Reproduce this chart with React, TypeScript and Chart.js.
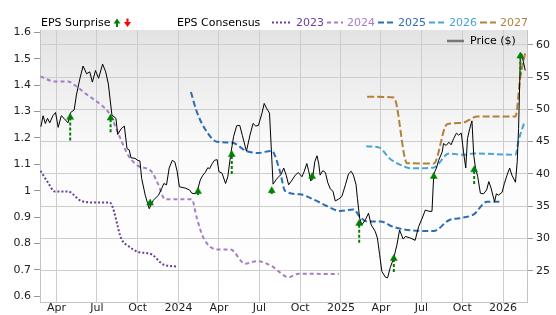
import React, { useEffect, useRef } from 'react';
import { Chart, registerables } from 'chart.js';

Chart.register(...registerables);

// ---------- data ----------
const xTickDates = ['2023-04-01', '2023-07-01', '2023-10-01', '2024-01-01', '2024-04-01', '2024-07-01', '2024-10-01', '2025-01-01', '2025-04-01', '2025-07-01', '2025-10-01', '2026-01-01'];
const xTickLabels = ['Apr', 'Jul', 'Oct', '2024', 'Apr', 'Jul', 'Oct', '2025', 'Apr', 'Jul', 'Oct', '2026'];
const epsTicks = [0.6, 0.7, 0.8, 0.9, 1.0, 1.1, 1.2, 1.3, 1.4, 1.5, 1.6];
const priceTicks = [25, 30, 35, 40, 45, 50, 55, 60];

const priceDates = [
  '2023-02-25', '2023-03-02', '2023-03-07', '2023-03-12', '2023-03-17', '2023-03-24', '2023-03-30', '2023-04-05', '2023-04-12', '2023-04-18',
  '2023-04-27', '2023-05-03', '2023-05-11', '2023-05-16', '2023-05-24', '2023-05-31', '2023-06-08', '2023-06-15', '2023-06-21', '2023-06-28',
  '2023-07-05', '2023-07-14', '2023-07-21', '2023-07-27', '2023-08-04', '2023-08-13', '2023-08-17', '2023-08-25', '2023-09-01', '2023-09-07',
  '2023-09-12', '2023-09-16', '2023-09-25', '2023-10-01', '2023-10-06', '2023-10-10', '2023-10-18', '2023-10-27', '2023-11-05', '2023-11-17',
  '2023-11-24', '2023-11-29', '2023-12-05', '2023-12-11', '2023-12-18', '2023-12-24', '2023-12-29', '2024-01-03', '2024-01-09', '2024-01-16',
  '2024-01-26', '2024-01-31', '2024-02-08', '2024-02-13', '2024-02-19', '2024-02-25', '2024-03-01', '2024-03-07', '2024-03-11', '2024-03-17',
  '2024-03-22', '2024-03-28', '2024-04-01', '2024-04-08', '2024-04-16', '2024-04-21', '2024-04-28', '2024-05-04', '2024-05-11', '2024-05-18',
  '2024-05-24', '2024-06-02', '2024-06-10', '2024-06-17', '2024-06-23', '2024-06-29', '2024-07-07', '2024-07-12', '2024-07-17', '2024-07-24',
  '2024-08-01', '2024-08-10', '2024-08-19', '2024-08-25', '2024-08-31', '2024-09-05', '2024-09-13', '2024-09-20', '2024-09-27', '2024-10-05',
  '2024-10-10', '2024-10-16', '2024-10-20', '2024-10-25', '2024-10-30', '2024-11-03', '2024-11-08', '2024-11-12', '2024-11-15', '2024-11-21',
  '2024-11-27', '2024-12-02', '2024-12-08', '2024-12-14', '2024-12-19', '2024-12-27', '2025-01-03', '2025-01-11', '2025-01-18', '2025-01-24',
  '2025-01-29', '2025-02-04', '2025-02-07', '2025-02-12', '2025-02-17', '2025-02-25', '2025-03-04', '2025-03-10', '2025-03-19', '2025-03-24',
  '2025-03-29', '2025-04-03', '2025-04-11', '2025-04-16', '2025-04-22', '2025-04-30', '2025-05-07', '2025-05-13', '2025-05-21', '2025-05-26',
  '2025-06-05', '2025-06-17', '2025-06-25', '2025-07-03', '2025-07-10', '2025-07-18', '2025-07-25', '2025-07-29', '2025-08-04', '2025-08-09',
  '2025-08-17', '2025-08-20', '2025-08-26', '2025-09-01', '2025-09-06', '2025-09-12', '2025-09-18', '2025-09-23', '2025-09-29', '2025-10-04',
  '2025-10-09', '2025-10-13', '2025-10-18', '2025-10-23', '2025-10-27', '2025-10-31', '2025-11-05', '2025-11-11', '2025-11-18', '2025-11-25',
  '2025-11-30', '2025-12-05', '2025-12-09', '2025-12-13', '2025-12-17', '2025-12-22', '2025-12-30', '2026-01-04', '2026-01-10', '2026-01-16',
  '2026-01-21', '2026-01-29', '2026-02-02', '2026-02-05', '2026-02-09', '2026-02-12', '2026-02-16', '2026-02-20',
];
const priceValues = [
  47.3, 49.0, 47.8, 48.6, 47.9, 49.0, 49.5, 47.2, 49.0, 48.6,
  47.9, 49.5, 49.9, 52.2, 54.8, 56.7, 55.5, 55.8, 54.2, 56.0,
  54.8, 57.0, 55.8, 53.9, 49.1, 48.6, 46.1, 47.0, 47.4, 43.9,
  43.7, 42.5, 42.4, 42.1, 42.0, 39.3, 36.7, 34.6, 35.9, 36.7,
  37.7, 38.5, 38.3, 40.9, 42.1, 41.8, 40.35, 38.0, 37.9, 37.8,
  37.5, 37.0, 36.9, 37.5, 39.05, 39.8, 40.2, 40.95, 40.8, 41.6,
  42.1, 42.2, 40.35, 40.1, 38.5, 39.55, 43.2, 45.75, 47.45, 47.5,
  45.9, 43.5, 46.0, 47.8, 47.4, 47.5, 49.4, 50.9, 50.2, 49.4,
  38.4, 39.3, 39.9, 40.9, 39.7, 38.3, 39.05, 39.8, 40.2, 39.55,
  40.35, 41.6, 40.5, 38.9, 39.8, 41.9, 42.8, 41.5, 39.8, 40.5,
  40.2, 38.7, 37.65, 37.3, 35.8, 36.1, 36.5, 38.3, 40.0, 40.4,
  39.8, 38.3, 36.2, 33.15, 32.1, 32.9, 33.9, 32.1, 31.1, 30.05,
  27.5, 24.9, 24.0, 23.9, 25.5, 27.0, 29.0, 31.3, 29.9, 30.3,
  30.1, 29.7, 31.85, 33.15, 34.4, 34.2, 34.2, 40.0, 40.9, 42.1,
  43.4, 44.7, 44.4, 44.9, 44.5, 45.5, 46.3, 46.0, 46.3, 43.4,
  40.9, 45.5, 47.0, 48.2, 42.9, 40.9, 39.55, 37.0, 36.9, 37.5,
  38.8, 37.8, 36.7, 35.7, 36.9, 36.7, 37.15, 38.5, 39.8, 40.9,
  39.8, 38.7, 41.9, 47.0, 58.1, 58.6, 57.3, 56.0,
];

const seriesLabels = ['2023', '2024', '2025', '2026', '2027'];

const eps2023Dates = ['2023-02-24', '2023-03-13', '2023-03-28', '2023-04-27', '2023-05-27', '2023-06-30', '2023-07-30', '2023-08-26', '2023-09-10', '2023-10-02', '2023-11-01', '2023-11-28', '2023-12-30'];
const eps2023Values = [1.075, 1.031, 0.997, 0.997, 0.961, 0.955, 0.955, 0.815, 0.79, 0.768, 0.759, 0.72, 0.712];

const eps2024Dates = ['2023-02-24', '2023-03-28', '2023-04-27', '2023-05-13', '2023-06-11', '2023-07-08', '2023-07-30', '2023-08-22', '2023-09-10', '2023-10-02', '2023-11-01', '2023-11-16', '2023-12-02', '2024-01-31', '2024-02-11', '2024-02-26', '2024-03-28', '2024-04-27', '2024-05-30', '2024-06-26', '2024-07-29', '2024-09-05', '2024-09-27', '2024-12-27'];
const eps2024Values = [1.433, 1.414, 1.414, 1.399, 1.361, 1.329, 1.29, 1.202, 1.133, 1.094, 1.073, 1.025, 0.967, 0.967, 0.898, 0.822, 0.777, 0.777, 0.723, 0.733, 0.714, 0.672, 0.685, 0.684];

const eps2025Dates = ['2024-01-29', '2024-02-11', '2024-03-01', '2024-03-28', '2024-05-01', '2024-06-02', '2024-06-29', '2024-07-29', '2024-08-17', '2024-08-28', '2024-10-01', '2024-10-31', '2024-11-30', '2024-12-30', '2025-01-29', '2025-02-14', '2025-03-01', '2025-03-31', '2025-04-30', '2025-06-06', '2025-07-29', '2025-09-01', '2025-10-04', '2025-10-27', '2025-11-26', '2025-12-26'];
const eps2025Values = [1.374, 1.3, 1.233, 1.185, 1.182, 1.15, 1.143, 1.151, 1.07, 0.999, 0.986, 0.967, 0.942, 0.923, 0.929, 0.898, 0.883, 0.883, 0.862, 0.85, 0.847, 0.888, 0.898, 0.91, 0.958, 0.958];

const eps2026Dates = ['2025-02-27', '2025-03-27', '2025-04-22', '2025-05-15', '2025-06-06', '2025-07-29', '2025-09-01', '2025-10-04', '2025-10-27', '2026-01-29', '2026-02-05', '2026-02-18'];
const eps2026Values = [1.168, 1.164, 1.12, 1.098, 1.085, 1.088, 1.141, 1.136, 1.141, 1.136, 1.19, 1.259];

const eps2027Dates = ['2025-03-01', '2025-04-30', '2025-05-30', '2025-07-29', '2025-08-28', '2025-10-01', '2025-11-04', '2026-01-29', '2026-02-09', '2026-02-20'];
const eps2027Values = [1.356, 1.353, 1.104, 1.103, 1.252, 1.257, 1.281, 1.281, 1.43, 1.524];

const surpriseDates = ['2023-05-02', '2023-08-01', '2023-10-29', '2024-02-14', '2024-04-30', '2024-07-29', '2024-10-28', '2025-02-11', '2025-04-30', '2025-07-29', '2025-10-28', '2026-02-09'];
const surpriseFrom = [1.19, 1.221, 0.942, 0.984, 1.063, 0.987, 1.04, 0.803, 0.692, 1.044, 1.025, 1.44];
const surpriseTo = [1.278, 1.275, 0.953, 0.997, 1.137, 1.0, 1.054, 0.876, 0.743, 1.054, 1.079, 1.51];

// ---------- helpers ----------
const t = (s: string) => Date.parse(s + 'T00:00:00Z');
const pts = (dates: string[], vals: number[]) => dates.map((d, i) => ({ x: t(d), y: vals[i] }));

const seriesColors = ['#6a3d9a', '#a47fc6', '#2d6db5', '#46a4d8', '#b5803a'];
const seriesDash = [[2, 2], [4, 3], [6, 3], [6, 3], [7, 3]];
const FONT = '"DejaVu Sans", sans-serif';

const bgPlugin = {
  id: 'bgGradient',
  beforeDraw(chart: any) {
    const { ctx, chartArea } = chart;
    const { left, top, right, bottom } = chartArea;
    const g = ctx.createLinearGradient(0, top, 0, bottom);
    g.addColorStop(0, '#e3e3e3');
    g.addColorStop(0.45, '#fbfbfb');
    g.addColorStop(1, '#ffffff');
    ctx.save();
    ctx.fillStyle = g;
    ctx.fillRect(left, top, right - left, bottom - top);
    ctx.restore();
  },
};

function arrow(c: CanvasRenderingContext2D, x: number, yTail: number, yTip: number, color: string) {
  const dir = yTip < yTail ? -1 : 1;
  c.save();
  c.strokeStyle = color;
  c.fillStyle = color;
  c.lineWidth = 2;
  c.beginPath();
  c.moveTo(x, yTail);
  c.lineTo(x, yTip - dir * 4);
  c.stroke();
  c.beginPath();
  c.moveTo(x, yTip);
  c.lineTo(x - 3.5, yTip - dir * 5);
  c.lineTo(x + 3.5, yTip - dir * 5);
  c.closePath();
  c.fill();
  c.restore();
}

const legendPlugin = {
  id: 'customLegend',
  afterDraw(chart: any) {
    const c: CanvasRenderingContext2D = chart.ctx;
    c.save();
    c.font = '11px ' + FONT;
    c.textBaseline = 'middle';
    c.textAlign = 'left';
    c.fillStyle = '#000';
    c.fillText('EPS Surprise', 41, 23);
    arrow(c, 117, 27, 18.5, '#008000');
    arrow(c, 127.5, 18.5, 27, '#ff0000');
    c.fillText('EPS Consensus', 177, 23);
    seriesLabels.forEach((lab, i) => {
      const tx = 296 + i * 51;
      c.save();
      c.strokeStyle = seriesColors[i];
      c.lineWidth = 2;
      c.setLineDash(seriesDash[i]);
      c.beginPath();
      c.moveTo(i === 0 ? 272 : tx - 20, 22.5);
      c.lineTo(tx - 4, 22.5);
      c.stroke();
      c.restore();
      c.fillStyle = seriesColors[i];
      c.fillText(lab, tx, 23);
    });
    c.strokeStyle = '#777';
    c.lineWidth = 2.5;
    c.beginPath();
    c.moveTo(447, 41);
    c.lineTo(464, 41);
    c.stroke();
    c.fillStyle = '#000';
    c.fillText('Price ($)', 470, 41);
    c.restore();
  },
};

export default function App() {
  const ref = useRef<HTMLCanvasElement>(null);

  useEffect(() => {
    document.body.style.margin = '0';
    const canvas = ref.current!;
    Chart.defaults.font.family = FONT;
    Chart.defaults.font.size = 11;

    const surpriseData: any[] = [];
    surpriseDates.forEach((d, i) => {
      surpriseData.push({ x: t(d), y: surpriseFrom[i] });
      surpriseData.push({ x: t(d), y: surpriseTo[i] });
      surpriseData.push({ x: t(d), y: null });
    });

    const epsSeries = [
      pts(eps2023Dates, eps2023Values),
      pts(eps2024Dates, eps2024Values),
      pts(eps2025Dates, eps2025Values),
      pts(eps2026Dates, eps2026Values),
      pts(eps2027Dates, eps2027Values),
    ];

    const chart = new Chart(canvas, {
      type: 'line',
      data: {
        datasets: [
          {
            label: 'EPS Surprise',
            data: surpriseData,
            yAxisID: 'yL',
            borderColor: '#008000',
            borderWidth: 2,
            borderDash: [3, 2],
            spanGaps: false,
            pointStyle: 'triangle',
            pointRadius: (ctx: any) => (ctx.dataIndex % 3 === 1 ? 4 : 0),
            pointBackgroundColor: '#008000',
            pointBorderColor: '#008000',
            pointBorderWidth: 0.5,
          } as any,
          {
            label: 'Price ($)',
            data: pts(priceDates, priceValues),
            yAxisID: 'yR',
            borderColor: '#000',
            borderWidth: 1,
            pointRadius: 0,
            tension: 0,
          },
          ...epsSeries.map((data, i) => ({
            label: seriesLabels[i],
            data,
            yAxisID: 'yL',
            borderColor: seriesColors[i],
            borderWidth: 2,
            borderDash: seriesDash[i],
            pointRadius: 0,
            cubicInterpolationMode: 'monotone' as const,
          })),
        ],
      },
      options: {
        responsive: false,
        animation: false,
        devicePixelRatio: 1,
        layout: { padding: { top: 30, left: 0, right: 0, bottom: 0 } },
        plugins: { legend: { display: false }, tooltip: { enabled: false }, title: { display: false } },
        events: [],
        scales: {
          x: {
            type: 'linear',
            min: t('2023-02-23'),
            max: t('2026-02-24'),
            afterBuildTicks: (scale: any) => {
              scale.ticks = xTickDates.map((d) => ({ value: t(d) }));
            },
            afterFit: (scale: any) => {
              scale.height = 13;
            },
            grid: { color: '#cdcdcd', drawTicks: false, lineWidth: 1 },
            border: { color: '#c4c4c4' },
            ticks: {
              autoSkip: false,
              maxRotation: 0,
              padding: 0,
              color: '#222',
              callback: (_v: any, i: number) => xTickLabels[i],
            },
          },
          yL: {
            type: 'linear',
            position: 'left',
            min: 0.578,
            max: 1.609,
            afterBuildTicks: (scale: any) => {
              scale.ticks = epsTicks.map((v) => ({ value: v }));
            },
            afterFit: (scale: any) => {
              scale.width = 40;
            },
            grid: { drawOnChartArea: false, tickLength: 6, tickColor: '#999' },
            border: { color: '#c4c4c4' },
            ticks: {
              padding: 3,
              color: '#222',
              callback: (v: any) => String(Math.round(Number(v) * 10) / 10),
            },
          },
          yR: {
            type: 'linear',
            position: 'right',
            min: 20.15,
            max: 62.28,
            afterBuildTicks: (scale: any) => {
              scale.ticks = priceTicks.map((v) => ({ value: v }));
            },
            afterFit: (scale: any) => {
              scale.width = 29;
            },
            grid: { color: '#cdcdcd', tickLength: 6, tickColor: '#999' },
            border: { color: '#c4c4c4' },
            ticks: {
              padding: 3,
              color: '#222',
              callback: (v: any) => String(v),
            },
          },
        },
      } as any,
      plugins: [bgPlugin, legendPlugin],
    });

    return () => chart.destroy();
  }, []);

  return (
    <div style={{ position: 'absolute', left: 0, top: 0, width: 556, height: 315, background: '#fff' }}>
      <canvas ref={ref} width={556} height={315} style={{ display: 'block', width: 556, height: 315 }} />
    </div>
  );
}
